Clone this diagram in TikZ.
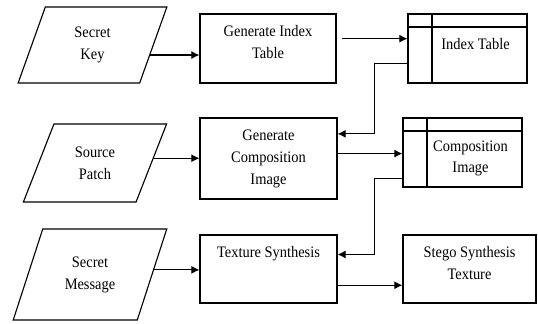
\documentclass[tikz,border=0pt]{standalone}
\usepackage{fontspec}
\setmainfont{Liberation Serif}[FakeStretch=0.9]
\usetikzlibrary{arrows.meta,calc,shapes.geometric}
\newcommand{\storelabel}[1]{\hspace*{0.4cm}\begin{tabular}[t]{@{}c@{}}#1\end{tabular}}
\tikzset{
  flow/.style={-{Latex[length=2mm,width=2mm]}, line width=0.8pt},
  io box/.style={trapezium, draw, line width=0.8pt, trapezium stretches=true,
    inner sep=1pt, align=center},
  process box/.style={draw, line width=0.8pt, align=center, inner xsep=4pt,
    inner ysep=0.15cm},
  store box/.style={draw, line width=0.8pt, inner sep=0pt,
    minimum width=2.975cm, minimum height=1.725cm,
    path picture={\draw[line width=0.8pt]
      ([yshift=-0.325cm]path picture bounding box.north west) --
      ([yshift=-0.325cm]path picture bounding box.north east)
      ([xshift=0.6cm]path picture bounding box.north west) --
      ([xshift=0.6cm]path picture bounding box.south west);}}
}

\begin{document}
\begin{tikzpicture}[x=0.025cm, y=-0.025cm, font=\fontsize{11.4}{15.6}\selectfont]
  \useasboundingbox (0,0) rectangle (538,323);

  % inputs
  \node[io box, minimum width=3.725cm, minimum height=1.9cm,
    trapezium left angle=73.9, trapezium right angle=106.1] (sk) at (92.5,45) {Secret\\Key};
  \node[io box, minimum width=3.6cm, minimum height=1.95cm,
    trapezium left angle=65.8, trapezium right angle=114.2] (sp) at (95,163) {Source\\Patch};
  \node[io box, minimum width=3.85cm, minimum height=2.275cm,
    trapezium left angle=66.8, trapezium right angle=113.2] (sm) at (90,274.5) {Secret\\Message};

  % processes
  \node[process box, minimum width=3.4cm, text height=0.95cm, text depth=0.475cm] (gi)
    at (268,48.5) {Generate Index\\Table};
  \node[process box, minimum width=3.425cm, text height=1.5cm, text depth=0.225cm] (gc)
    at (268.5,158.5) {Generate\\Composition\\Image};
  \node[process box, minimum width=3.425cm, text height=0.4cm, text depth=1.0cm] (ts)
    at (268.5,269) {Texture Synthesis};
  \node[process box, minimum width=3.325cm, text height=0.95cm, text depth=0.45cm] (st)
    at (469.5,269) {Stego Synthesis\\Texture};

  % stores
  \node[store box, text height=0.875cm, text depth=0.85cm] (it)
    at (467.5,48.5) {\storelabel{Index Table}};
  \node[store box, text height=0.825cm, text depth=0.9cm] (ci)
    at (462.5,152.5) {\storelabel{Composition\\Image}};

  % connectors
  \draw[flow] ($(sk.bottom right corner)!0.37!(sk.top right corner)$) coordinate (a1) -- (a1 -| gi.west);
  \draw[flow] ($(sp.bottom right corner)!0.56!(sp.top right corner)$) coordinate (a2) -- (a2 -| gc.west);
  \draw[flow] ($(sm.bottom right corner)!0.55!(sm.top right corner)$) coordinate (a3) -- (a3 -| ts.west);
  \draw[flow] ($(gi.north east)!0.36!(gi.south east)+(5,0)$) coordinate (a4) -- (a4 -| it.west);
  \draw[flow] ($(gc.north east)!0.44!(gc.south east)$) coordinate (a5) -- (a5 -| ci.west);
  \draw[flow] ($(ts.north east)!0.735!(ts.south east)$) coordinate (a6) -- (a6 -| st.west);
  \draw[flow] ($(it.north west)!0.72!(it.south west)$) -- ++(-33,0)
    |- ($(gc.north east)!0.2!(gc.south east)$);
  \draw[flow] ($(ci.north west)!0.87!(ci.south west)$) -- ++(-28,0)
    |- ($(ts.north east)!0.29!(ts.south east)$);
\end{tikzpicture}
\end{document}
